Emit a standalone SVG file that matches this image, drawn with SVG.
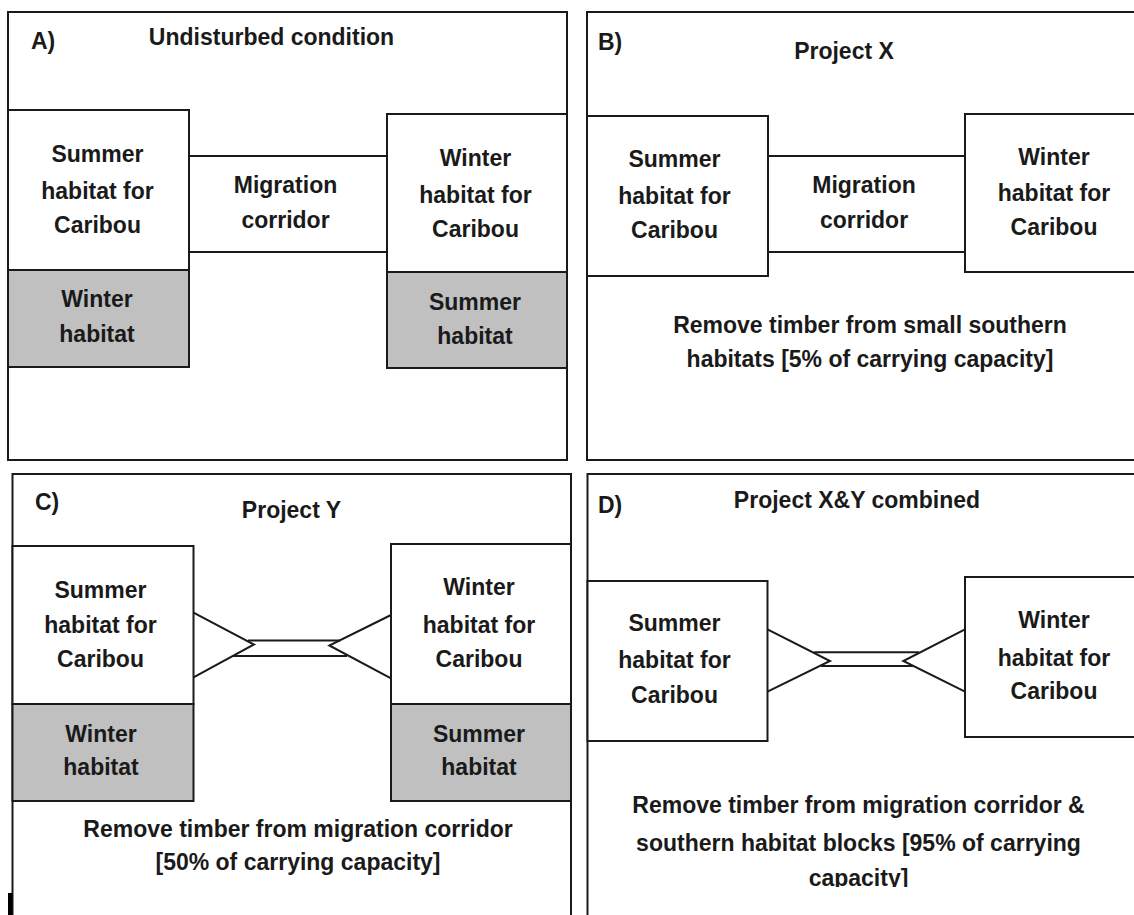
<svg xmlns="http://www.w3.org/2000/svg" width="1134" height="915" viewBox="0 0 1134 915">
<style>
.frame{fill:#fff;stroke:#1a1a1a;stroke-width:2}
.box{fill:#fff;stroke:#1a1a1a;stroke-width:2}
.gbox{fill:#c0c0c0;stroke:#1a1a1a;stroke-width:2}
.ln{fill:none;stroke:#1a1a1a;stroke-width:2;stroke-linejoin:miter}
text{font-family:"Liberation Sans",Arial,sans-serif;font-weight:bold;font-size:23px;fill:#1a1a1a}
.c{text-anchor:middle}
</style>
<defs>
<clipPath id="clipD"><rect x="580" y="470" width="560" height="417"/></clipPath>
</defs>
<rect x="0" y="0" width="1134" height="915" fill="#fff"/>

<!-- Panel frames -->
<g id="panelA"><rect class="frame" x="8" y="12" width="559" height="448"/>
<text x="31" y="49">A)</text>
<text class="c" x="271.5" y="45">Undisturbed condition</text></g>
<g id="panelB"><rect class="frame" x="587" y="12" width="560" height="448"/>
<text x="598" y="50">B)</text>
<text class="c" x="844" y="59">Project X</text>
<text class="c" x="870" y="333">Remove timber from small southern</text>
<text class="c" x="870" y="367">habitats [5% of carrying capacity]</text></g>
<g id="panelC"><rect class="frame" x="12.5" y="474" width="558.5" height="460"/>
<text x="35" y="510">C)</text>
<text class="c" x="291.5" y="518">Project Y</text>
<text class="c" x="298" y="837">Remove timber from migration corridor</text>
<text class="c" x="298" y="870">[50% of carrying capacity]</text></g>
<g id="panelD"><rect class="frame" x="587.5" y="474" width="560" height="460"/>
<text x="598" y="513">D)</text>
<text class="c" x="857" y="508">Project X&amp;Y combined</text>
<text class="c" x="858.5" y="813">Remove timber from migration corridor &amp;</text>
<text class="c" x="858.5" y="851">southern habitat blocks [95% of carrying</text>
<text class="c" x="858.5" y="886" clip-path="url(#clipD)">capacity]</text></g>
<rect x="8" y="893" width="4.5" height="22" fill="#000"/>

<!-- Connectors -->
<g id="connectors">
<line class="ln" x1="189" y1="156" x2="387" y2="156"/>
<line class="ln" x1="189" y1="252" x2="387" y2="252"/>
<line class="ln" x1="768" y1="156" x2="965" y2="156"/>
<line class="ln" x1="768" y1="252" x2="965" y2="252"/>
<polyline class="ln" points="193.5,612.7 254,644.5 193.5,677.3"/>
<polyline class="ln" points="391,615 329.3,645.5 391,678.3"/>
<line class="ln" x1="248" y1="640.5" x2="340" y2="640.5"/>
<line class="ln" x1="233" y1="656" x2="347" y2="656"/>
<polyline class="ln" points="767.5,629.3 830,661 767.5,691.7"/>
<polyline class="ln" points="965,629.3 903.3,661 965,691.7"/>
<line class="ln" x1="814" y1="652.3" x2="919" y2="652.3"/>
<line class="ln" x1="821" y1="666" x2="913" y2="666"/>
</g>

<!-- Panel A nodes -->
<g id="A-summer"><rect class="box" x="8" y="110" width="181" height="160"/>
<text class="c" x="97.5" y="162">Summer</text><text class="c" x="97.5" y="199">habitat for</text><text class="c" x="97.5" y="233">Caribou</text></g>
<g id="A-winter-sub"><rect class="gbox" x="8" y="270" width="181" height="97"/>
<text class="c" x="97" y="307">Winter</text><text class="c" x="97" y="342">habitat</text></g>
<g id="A-corridor"><text class="c" x="285.5" y="193">Migration</text><text class="c" x="285.5" y="228">corridor</text></g>
<g id="A-winter"><rect class="box" x="387" y="114" width="180" height="158"/>
<text class="c" x="475.5" y="166">Winter</text><text class="c" x="475.5" y="203">habitat for</text><text class="c" x="475.5" y="237">Caribou</text></g>
<g id="A-summer-sub"><rect class="gbox" x="387" y="272" width="180" height="96"/>
<text class="c" x="475" y="310">Summer</text><text class="c" x="475" y="344">habitat</text></g>

<!-- Panel B nodes -->
<g id="B-summer"><rect class="box" x="587" y="116" width="181" height="160"/>
<text class="c" x="674.5" y="167">Summer</text><text class="c" x="674.5" y="204">habitat for</text><text class="c" x="674.5" y="238">Caribou</text></g>
<g id="B-corridor"><text class="c" x="864" y="193">Migration</text><text class="c" x="864" y="228">corridor</text></g>
<g id="B-winter"><rect class="box" x="965" y="114" width="180" height="158"/>
<text class="c" x="1054" y="165">Winter</text><text class="c" x="1054" y="201">habitat for</text><text class="c" x="1054" y="235">Caribou</text></g>

<!-- Panel C nodes -->
<g id="C-summer"><rect class="box" x="12.5" y="546" width="181" height="158"/>
<text class="c" x="100.5" y="598">Summer</text><text class="c" x="100.5" y="633">habitat for</text><text class="c" x="100.5" y="667">Caribou</text></g>
<g id="C-winter-sub"><rect class="gbox" x="12.5" y="704" width="181" height="97"/>
<text class="c" x="101" y="742">Winter</text><text class="c" x="101" y="775">habitat</text></g>
<g id="C-winter"><rect class="box" x="391" y="544" width="180" height="160"/>
<text class="c" x="479" y="595">Winter</text><text class="c" x="479" y="633">habitat for</text><text class="c" x="479" y="667">Caribou</text></g>
<g id="C-summer-sub"><rect class="gbox" x="391" y="704" width="180" height="97"/>
<text class="c" x="479" y="742">Summer</text><text class="c" x="479" y="775">habitat</text></g>

<!-- Panel D nodes -->
<g id="D-summer"><rect class="box" x="587.5" y="581" width="180" height="160"/>
<text class="c" x="674.5" y="631">Summer</text><text class="c" x="674.5" y="668">habitat for</text><text class="c" x="674.5" y="703">Caribou</text></g>
<g id="D-winter"><rect class="box" x="965" y="577" width="180" height="160"/>
<text class="c" x="1054" y="628">Winter</text><text class="c" x="1054" y="666">habitat for</text><text class="c" x="1054" y="699">Caribou</text></g>
</svg>
